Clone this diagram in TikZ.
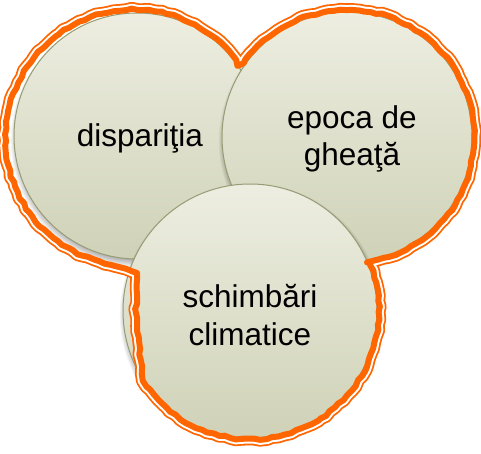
\documentclass[tikz,border=0pt]{standalone}
\usepackage{fontspec}
\setmainfont{Liberation Sans}
\usetikzlibrary{calc,decorations.pathmorphing}
\definecolor{topc}{HTML}{EDEEE1}
\definecolor{botc}{HTML}{CFD2B7}
\definecolor{edgec}{HTML}{979C74}
\definecolor{orng}{HTML}{FF6600}
\tikzset{
  bubble/.style={top color=topc, bottom color=botc, draw=edgec, line width=1pt},
  lbl/.style={font=\fontsize{31.5}{37.5}\selectfont, align=center, text=black},
  wob/.style={decorate, decoration={random steps, segment length=6pt, amplitude=1pt}, line join=round}
}
\newcommand{\bubbleshadow}[2]{%
  \foreach \k in {0,...,8}{\fill[black, opacity=0.04] ($(#1)+(1,-4)$) circle ({#2-3+\k*0.9});}}
\newcommand{\orangeoutline}{(236.2,393.1) arc[start angle=37.5, end angle=246, radius=128.5] -- (115,187) -- (137,180) -- (136,140) -- (142.7,72.3) arc[start angle=213, end angle=382, radius=128.5] -- (367,190.6) arc[start angle=279, end angle=504.5, radius=127] -- (237.5,387) -- cycle}
\begin{document}
\begin{tikzpicture}[x=1pt,y=1pt]
\useasboundingbox (0,0) rectangle (481,453);
\coordinate (L) at (137,317);
\coordinate (R) at (347,316);
\coordinate (B) at (250,142);
% left
\bubbleshadow{L}{123}
\path[bubble] (L) circle (123);
\node[lbl] (tl) at (140,315) {dispariţia};
% right
\bubbleshadow{R}{125}
\path[bubble] (R) circle (125);
\node[lbl] (tr) at (352,314) {epoca de\\gheaţă};
% bottom
\bubbleshadow{B}{127}
\path[bubble] (B) circle (127);
\node[lbl] (tb) at (250,138) {schimbări\\climatice};
% orange hand-drawn outline
\begin{scope}[even odd rule, decoration={random steps, segment length=6pt, amplitude=1pt}]
  \pgfmathsetseed{11}
  \clip decorate {\orangeoutline} (-60,-60) rectangle (540,520);
  \pgfmathsetseed{11}
  \draw[orng, line width=13.6pt, wob] \orangeoutline;
  \pgfmathsetseed{11}
  \draw[white, line width=10pt, wob] \orangeoutline;
\end{scope}
\pgfmathsetseed{11}
\draw[orng, line width=6pt, wob] \orangeoutline;
\end{tikzpicture}
\end{document}
